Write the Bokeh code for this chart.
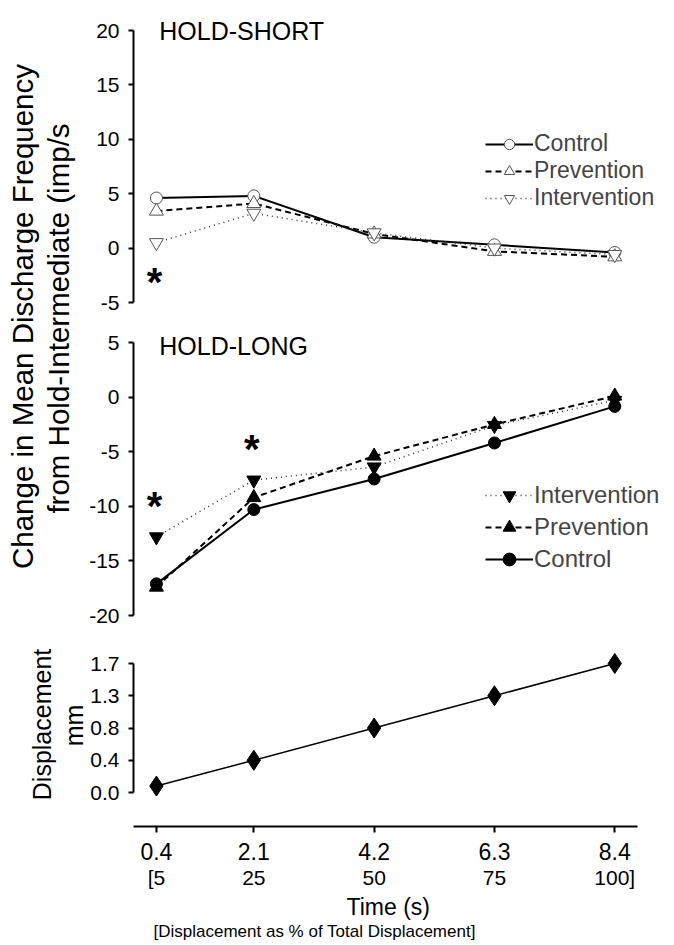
import math
from bokeh.plotting import figure
from bokeh.layouts import column, row
from bokeh.models import Range1d, FixedTicker, LinearAxis, Label, Legend, LegendItem, Title
from bokeh.core.properties import value
from bokeh.embed import file_html
from bokeh.resources import INLINE

# ---------------- data ----------------
time_s = [0.4, 2.1, 4.2, 6.3, 8.4]
time_labels = ["0.4", "2.1", "4.2", "6.3", "8.4"]
pct_labels = ["[5", "25", "50", "75", "100]"]

short_control = [4.6, 4.8, 1.0, 0.3, -0.4]
short_prevention = [3.4, 4.1, 1.3, -0.3, -0.8]
short_intervention = [0.5, 3.2, 1.4, 0.0, -0.6]

long_intervention = [-12.8, -7.6, -6.4, -2.6, -0.3]
long_prevention = [-17.4, -9.2, -5.4, -2.5, 0.1]
long_control = [-17.1, -10.3, -7.5, -4.2, -0.85]

displacement_mm = [0.085, 0.425, 0.85, 1.275, 1.7]
disp_ticks = [0.0, 0.425, 0.85, 1.275, 1.7]
disp_tick_labels = ["0.0", "0.4", "0.8", "1.3", "1.7"]

short_ticks = [-5, 0, 5, 10, 15, 20]
short_tick_labels = ["-5", "0", "5", "10", "15", "20"]
long_ticks = [-20, -15, -10, -5, 0, 5]
long_tick_labels = ["-20", "-15", "-10", "-5", "0", "5"]

short_sig_x = [0.4]
short_sig_y = [-2.7]
long_sig_x = [0.4, 2.1]
long_sig_y = [-9.5, -4.3]

# ---------------- layout constants ----------------
FONT = "Liberation Sans"
LBL_W = 86
PW = 674 - LBL_W
FRAME_L, FRAME_R = 132, 672
BL = FRAME_L - LBL_W
BR = 674 - FRAME_R
XPX = 57.4  # px per second
X_END = (FRAME_R - FRAME_L) / XPX


def panel(height, y_start, y_end, top=0, bottom=0):
    p = figure(width=PW, height=height, x_range=Range1d(0, X_END),
               y_range=Range1d(y_start, y_end), output_backend="svg",
               toolbar_location=None, x_axis_location=None, y_axis_location=None,
               min_border_left=BL, min_border_right=BR, min_border_top=top,
               min_border_bottom=bottom)
    p.grid.visible = False
    p.outline_line_color = None
    return p


def y_axis(bounds, ticks, labels, size="21px"):
    ax = LinearAxis(bounds=bounds, ticker=FixedTicker(ticks=ticks))
    ax.major_label_overrides = {t: l for t, l in zip(ticks, labels)}
    ax.axis_line_width = 2
    ax.axis_line_color = "black"
    ax.major_tick_line_width = 2
    ax.major_tick_out = 5
    ax.major_tick_in = 0
    ax.minor_tick_out = 0
    ax.minor_tick_in = 0
    ax.major_label_standoff = 9
    ax.major_label_text_font = FONT
    ax.major_label_text_font_size = size
    ax.major_label_text_color = "black"
    return ax


# ---------------- top panel: HOLD-SHORT ----------------
px_s = 54.4 / 5
top_h = 318
t_frame_top = 14
ys_end = 20 + (30 - t_frame_top) / px_s
ys_start = ys_end - (top_h - t_frame_top) / px_s
p1 = panel(top_h, ys_start, ys_end, top=t_frame_top, bottom=0)
p1.add_layout(y_axis((-5, 20), short_ticks, short_tick_labels), "left")

c1 = p1.line(time_s, short_control, line_color="black", line_width=2)
c1m = p1.scatter(time_s, short_control, marker="circle", size=12,
                 fill_color="white", line_color="#555555", line_width=1)
pv1 = p1.line(time_s, short_prevention, line_color="black", line_width=2, line_dash="6 4")
pv1m = p1.scatter(time_s, short_prevention, marker="triangle", size=14,
                  fill_color="white", line_color="#555555", line_width=1)
iv1 = p1.line(time_s, short_intervention, line_color="#333333", line_width=1.5, line_dash="1 4")
iv1m = p1.scatter(time_s, short_intervention, marker="inverted_triangle", size=14,
                  fill_color="white", line_color="#555555", line_width=1)

p1.text(short_sig_x, short_sig_y, text=["*"] * len(short_sig_x), text_font=value(FONT),
        text_font_size=value("40px"), text_font_style="bold", text_align="center",
        text_baseline="middle", y_offset=5, x_offset=-2, text_color="black")
p1.add_layout(Label(x=0.45, y=20, text="HOLD-SHORT", text_font=FONT, text_font_size="25px",
                    text_baseline="middle", text_align="left", text_color="black"))

leg1 = Legend(items=[LegendItem(label="Control", renderers=[c1, c1m]),
                     LegendItem(label="Prevention", renderers=[pv1, pv1m]),
                     LegendItem(label="Intervention", renderers=[iv1, iv1m])],
              location=(352, 107), glyph_width=48, glyph_height=26, label_height=26,
              label_standoff=1, spacing=0, padding=0, margin=0,
              label_text_font=FONT, label_text_font_size="23px",
              border_line_color=None, background_fill_alpha=0)
p1.add_layout(leg1, "center")

# ---------------- middle panel: HOLD-LONG ----------------
px_l = 54.6 / 5
mid_h = 312
m_frame_top = 318
yl_end = 5 + (342 - m_frame_top) / px_l
yl_start = yl_end - mid_h / px_l
p2 = panel(mid_h, yl_start, yl_end)
p2.add_layout(y_axis((-20, 5), long_ticks, long_tick_labels), "left")

iv2 = p2.line(time_s, long_intervention, line_color="#333333", line_width=1.5, line_dash="1 4")
iv2m = p2.scatter(time_s, long_intervention, marker="inverted_triangle", size=14,
                  fill_color="black", line_color="black")
pv2 = p2.line(time_s, long_prevention, line_color="black", line_width=2, line_dash="6 4")
pv2m = p2.scatter(time_s, long_prevention, marker="triangle", size=14,
                  fill_color="black", line_color="black")
c2 = p2.line(time_s, long_control, line_color="black", line_width=2)
c2m = p2.scatter(time_s, long_control, marker="circle", size=12,
                 fill_color="black", line_color="black")

p2.text(long_sig_x, long_sig_y, text=["*"] * len(long_sig_x), text_font=value(FONT),
        text_font_size=value("40px"), text_font_style="bold", text_align="center",
        text_baseline="middle", y_offset=5, x_offset=-2, text_color="black")
p2.add_layout(Label(x=0.45, y=4.7, text="HOLD-LONG", text_font=FONT, text_font_size="25px",
                    text_baseline="middle", text_align="left", text_color="black"))

leg2 = Legend(items=[LegendItem(label="Intervention", renderers=[iv2, iv2m]),
                     LegendItem(label="Prevention", renderers=[pv2, pv2m]),
                     LegendItem(label="Control", renderers=[c2, c2m])],
              location=(352, 55), glyph_width=48, glyph_height=32, label_height=32,
              label_standoff=1, spacing=0, padding=0, margin=0,
              label_text_font=FONT, label_text_font_size="24px",
              border_line_color=None, background_fill_alpha=0)
p2.add_layout(leg2, "center")

# ---------------- bottom panel: displacement ----------------
px_d = (792 - 663) / 1.7
bot_h = 314
b_frame_top, b_frame_bot = 630, 826
yd_end = 1.7 + (663 - b_frame_top) / px_d
yd_start = yd_end - (b_frame_bot - b_frame_top) / px_d
p3 = panel(bot_h, yd_start, yd_end, top=0, bottom=bot_h - (b_frame_bot - b_frame_top))
p3.add_layout(y_axis((0, 1.7), disp_ticks, disp_tick_labels), "left")

p3.line(time_s, displacement_mm, line_color="black", line_width=1.5)
p3.scatter(time_s, displacement_mm, marker="diamond", size=20, fill_color="black",
           line_color="black")

xa = LinearAxis(bounds=(0, 8.8), ticker=FixedTicker(ticks=time_s))
xa.major_label_overrides = {t: l for t, l in zip(time_s, time_labels)}
xa.axis_line_width = 2
xa.major_tick_line_width = 2
xa.major_tick_out = 6
xa.major_tick_in = 0
xa.minor_tick_out = 0
xa.minor_tick_in = 0
xa.major_label_standoff = 10
xa.major_label_text_font = FONT
xa.major_label_text_font_size = "23px"
xa.major_label_text_color = "black"
p3.add_layout(xa, "below")

xb = LinearAxis(bounds=(0, 8.8), ticker=FixedTicker(ticks=time_s))
xb.major_label_overrides = {t: l for t, l in zip(time_s, pct_labels)}
xb.axis_line_color = None
xb.major_tick_line_color = None
xb.major_tick_out = 0
xb.major_tick_in = 0
xb.minor_tick_out = 0
xb.minor_tick_in = 0
xb.major_label_standoff = 3
xb.major_label_text_font = FONT
xb.major_label_text_font_size = "21px"
xb.major_label_text_color = "black"
p3.add_layout(xb, "below")

p3.add_layout(Title(text="Time (s)", align="left", offset=345 - FRAME_L, standoff=0,
                    text_font=FONT, text_font_size="23px", text_font_style="normal",
                    text_color="black"), "below")
p3.add_layout(Title(text="[Displacement as % of Total Displacement]", align="left",
                    offset=152 - FRAME_L, standoff=0, text_font=FONT,
                    text_font_size="17px", text_font_style="normal", text_color="black"),
              "below")

# ---------------- left label column ----------------
TOTAL_H = top_h + mid_h + bot_h
pl = figure(width=LBL_W, height=TOTAL_H, x_range=Range1d(0, LBL_W),
            y_range=Range1d(TOTAL_H, 0), output_backend="svg", toolbar_location=None,
            x_axis_location=None, y_axis_location=None, min_border=0)
pl.grid.visible = False
pl.outline_line_color = None

for txt, lx, ly, fs in [("Change in Mean Discharge Frequency", 22, 316, "29.5px"),
                        ("from Hold-Intermediate (imp/s", 58, 318, "29.5px"),
                        ("Displacement", 41, 724, "25px"),
                        ("mm", 73, 725, "25px")]:
    pl.add_layout(Label(x=lx, y=ly, text=txt, angle=math.pi / 2, angle_units="rad",
                        text_font=FONT, text_font_size=fs, text_align="center",
                        text_baseline="middle", text_color="black"))

layout = row(pl, column(p1, p2, p3, spacing=0), spacing=0)

with open("out.html", "w") as f:
    f.write(file_html(layout, INLINE))
